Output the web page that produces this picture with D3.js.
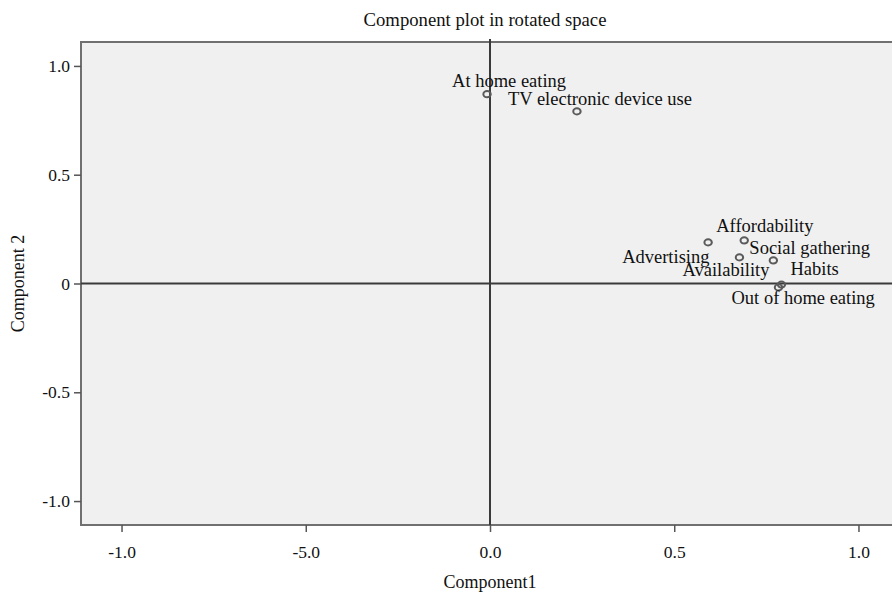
<!DOCTYPE html>
<html>
<head>
<meta charset="utf-8">
<script src="https://cdn.jsdelivr.net/npm/d3@7"></script>
<style>
  body { margin: 0; background: #fff; }
  text { font-family: "Liberation Serif", "Times New Roman", serif; fill: #111; }
</style>
</head>
<body>
<svg id="chart" width="892" height="592"></svg>
<script>
// component loadings
var variables = ['At home eating', 'TV electronic device use', 'Affordability', 'Advertising',
  'Availability', 'Social gathering', 'Habits', 'Out of home eating'];
var comp1 = [-0.008, 0.236, 0.690, 0.592, 0.677, 0.769, 0.791, 0.783];
var comp2 = [0.870, 0.791, 0.198, 0.189, 0.120, 0.106, -0.005, -0.018];

var xTicks = [-1, -0.5, 0, 0.5, 1];
var xTickLabels = ['-1.0', '-5.0', '0.0', '0.5', '1.0'];
var yTicks = [1, 0.5, 0, -0.5, -1];
var yTickLabels = ['1.0', '0.5', '0', '-0.5', '-1.0'];

// label offsets (pixels) from each point, layout only
var labelOffsets = [[-35, -7], [-69, -6], [-28, -8], [-86, 21], [-57, 19], [-24, -6], [9, -10], [-47, 17]];

var svg = d3.select('#chart');
var plotLeft = 81, plotTop = 42, plotRight = 899, plotBottom = 525;

var x = d3.scaleLinear().domain([-1.11, 1.11]).range([plotLeft, plotRight]);
var y = d3.scaleLinear().domain([-1.11, 1.11]).range([plotBottom, plotTop]);

// plot background
svg.append('rect')
  .attr('x', plotLeft).attr('y', plotTop)
  .attr('width', plotRight - plotLeft).attr('height', plotBottom - plotTop)
  .attr('fill', '#f0f0f0');

// frame
var frame = svg.append('g').attr('stroke', '#707070').attr('stroke-width', 2).attr('fill', 'none');
frame.append('line').attr('x1', plotLeft).attr('x2', plotLeft).attr('y1', plotTop - 1).attr('y2', plotBottom + 1);
frame.append('line').attr('x1', plotLeft).attr('x2', 892).attr('y1', plotTop).attr('y2', plotTop);
frame.append('line').attr('x1', plotLeft).attr('x2', 892).attr('y1', plotBottom).attr('y2', plotBottom);

// reference lines at 0
svg.append('line')
  .attr('x1', x(0)).attr('x2', x(0)).attr('y1', plotTop - 3).attr('y2', plotBottom)
  .attr('stroke', '#3a3a3a').attr('stroke-width', 2);
svg.append('line')
  .attr('x1', plotLeft).attr('x2', 892).attr('y1', y(0)).attr('y2', y(0))
  .attr('stroke', '#3a3a3a').attr('stroke-width', 2);

// x axis
var xAxis = d3.axisBottom(x)
  .tickValues(xTicks)
  .tickSize(7)
  .tickPadding(14)
  .tickFormat(function (d, i) { return xTickLabels[i]; });
var gx = svg.append('g')
  .attr('transform', 'translate(0,' + plotBottom + ')')
  .call(xAxis);
gx.select('.domain').remove();
gx.selectAll('.tick line').attr('stroke', '#555').attr('stroke-width', 1.5);
gx.selectAll('.tick text')
  .style('font-family', '"Liberation Serif", serif')
  .style('font-size', '17.5px')
  .attr('fill', '#111');

// y axis
var yAxis = d3.axisLeft(y)
  .tickValues(yTicks)
  .tickSize(7)
  .tickPadding(4)
  .tickFormat(function (d, i) { return yTickLabels[i]; });
var gy = svg.append('g')
  .attr('transform', 'translate(' + plotLeft + ',0)')
  .call(yAxis);
gy.select('.domain').remove();
gy.selectAll('.tick line').attr('stroke', '#555').attr('stroke-width', 1.5);
gy.selectAll('.tick text')
  .style('font-family', '"Liberation Serif", serif')
  .style('font-size', '17.5px')
  .attr('fill', '#111');

// points
svg.append('g').selectAll('ellipse')
  .data(variables)
  .enter().append('ellipse')
  .attr('cx', function (d, i) { return x(comp1[i]); })
  .attr('cy', function (d, i) { return y(comp2[i]); })
  .attr('rx', 3.7)
  .attr('ry', 3.1)
  .attr('fill', 'none')
  .attr('stroke', '#5a5a5a')
  .attr('stroke-width', 2);

// point labels
svg.append('g').selectAll('text')
  .data(variables)
  .enter().append('text')
  .attr('x', function (d, i) { return x(comp1[i]) + labelOffsets[i][0]; })
  .attr('y', function (d, i) { return y(comp2[i]) + labelOffsets[i][1]; })
  .style('font-size', '18.5px')
  .text(function (d) { return d; });

// titles
svg.append('text')
  .attr('x', 485).attr('y', 26)
  .attr('text-anchor', 'middle')
  .style('font-size', '18.7px')
  .text('Component plot in rotated space');

svg.append('text')
  .attr('x', x(0)).attr('y', 588)
  .attr('text-anchor', 'middle')
  .style('font-size', '18px')
  .text('Component1');

svg.append('text')
  .attr('transform', 'translate(24,' + y(0) + ') rotate(-90)')
  .attr('text-anchor', 'middle')
  .style('font-size', '18px')
  .text('Component 2');
</script>
</body>
</html>
